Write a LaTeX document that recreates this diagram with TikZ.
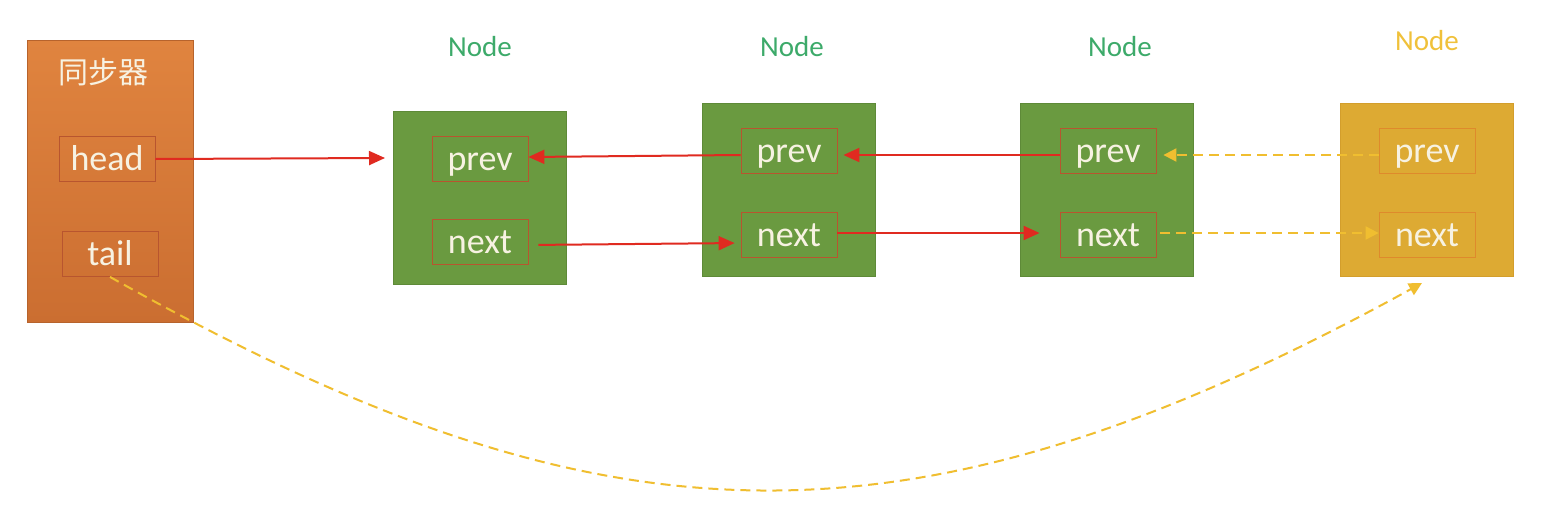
\documentclass[tikz,border=0pt]{standalone}
\usepackage{fontspec}
\setmainfont{Carlito}
\newfontfamily\cjk{Noto Sans CJK SC}
\usetikzlibrary{arrows.meta}
\definecolor{ortop}{HTML}{E0843F}
\definecolor{orbot}{HTML}{CB6E31}
\definecolor{grfill}{HTML}{6A9A40}
\definecolor{grline}{HTML}{5E8A38}
\definecolor{yefill}{HTML}{DDAA33}
\definecolor{yeline}{HTML}{D39E2C}
\definecolor{fieldline}{HTML}{B8552F}
\definecolor{fieldlineY}{HTML}{DE8A2C}
\definecolor{txt}{HTML}{F7F2E2}
\definecolor{nodegreen}{HTML}{3DAA6A}
\definecolor{nodeyellow}{HTML}{F0C13A}
\definecolor{redarrow}{HTML}{E02A20}
\definecolor{yearrow}{HTML}{F0BE30}
\tikzset{
  x=0.5pt, y=-0.5pt,
  holder/.style={rectangle, inner sep=0pt, minimum width=83pt, minimum height=141pt,
    top color=ortop, bottom color=orbot, draw=orbot!90!black, line width=0.4pt},
  listnode/.style={rectangle, inner sep=0pt, minimum width=86.5pt, minimum height=86.5pt, line width=0.5pt},
  greennode/.style={listnode, fill=grfill, draw=grline},
  yellownode/.style={listnode, fill=yefill, draw=yeline},
  field/.style={rectangle, inner sep=0pt, minimum width=48pt, minimum height=22.5pt,
    text height=14.5pt, text depth=3pt,
    draw=fieldline, line width=0.4pt, text=txt, font=\fontsize{18}{21}\selectfont},
  fieldY/.style={field, draw=fieldlineY},
  nodelabel/.style={font=\fontsize{14.5}{17}\selectfont, text=nodegreen},
  redlink/.style={draw=redarrow, line width=1pt, -{Triangle[length=8pt,width=7pt]}},
  yelink/.style={draw=yearrow, line width=1pt, dash pattern=on 5pt off 3pt,
    -{Triangle[length=6.5pt,width=6.5pt]}}
}
\begin{document}
\begin{tikzpicture}
\useasboundingbox (0,0) rectangle (1556,514);
\fill[white] (0,0) rectangle (1556,514);

% synchronizer
\node[holder] (sync) at (110,181) {};
\node[text=txt, font=\cjk\fontsize{15}{18}\selectfont] (synclabel) at (103,72) {同步器};
\node[field] (head) at (107,159) {head};
\node[field] (tail) at (110,254) {tail};

% labels
\node[nodelabel] (l1) at (480,47) {Node};
\node[nodelabel] (l2) at (792,47) {Node};
\node[nodelabel] (l3) at (1120,47) {Node};
\node[nodelabel, text=nodeyellow] (l4) at (1427,41) {Node};

% nodes
\node[greennode] (n1) at (479.5,197.5) {};
\node[field] (prev1) at (480,158.5) {prev};
\node[field] (next1) at (480,242) {next};

\node[greennode] (n2) at (789,190) {};
\node[field] (prev2) at (789,151) {prev};
\node[field] (next2) at (789,234.5) {next};

\node[greennode] (n3) at (1107,190) {};
\node[field] (prev3) at (1108,151) {prev};
\node[field] (next3) at (1108,234.5) {next};

\node[yellownode] (n4) at (1427,190) {};
\node[fieldY] (prev4) at (1427,151) {prev};
\node[fieldY] (next4) at (1427,234.5) {next};

% red links
\coordinate (h1) at (385,158);
\draw[redlink] (head.east) -- (h1);
\draw[redlink] (prev2.west |- 0,155) -- (prev1.east |- 0,157);
\draw[redlink, shorten >=3pt] (prev3.west |- 0,155) -- (prev2.east |- 0,155);
\draw[redlink, shorten <=5pt, shorten >=3pt] (next1.east |- 0,245) -- (next2.west |- 0,243);
\draw[redlink, shorten >=10pt] (next2.east |- 0,233) -- (next3.west |- 0,233);

% yellow links
\draw[yelink, shorten >=3.5pt] (prev4.west |- 0,155) -- (prev3.east |- 0,155);
\draw[yelink, shorten <=2pt] (next3.east |- 0,233) -- (next4.west |- 0,233);
\coordinate (t4) at (1422,283);
\draw[yelink] (tail.south) .. controls (595,550) and (902,569) .. (t4);
\end{tikzpicture}
\end{document}
